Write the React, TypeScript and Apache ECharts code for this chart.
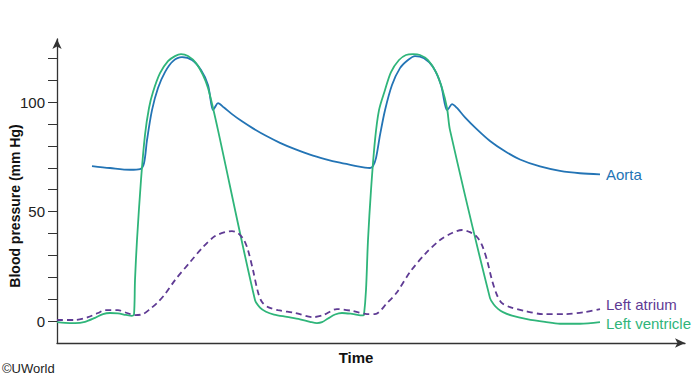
import React, { useEffect, useRef } from "react";
import * as echarts from "echarts";

// Time in arbitrary units (0 = y-axis); pressure in mm Hg
const aortaT = [35, 53, 73, 83, 87, 90, 95, 101, 108, 116, 125, 135, 144, 151, 156, 158, 161, 167, 175, 185, 196, 209, 223, 238, 253, 268, 283, 298, 308, 313, 316, 319,
  323, 328, 335, 343, 351, 358, 367, 376, 384, 390, 392, 395, 400, 408, 420, 433, 448, 463, 483, 503, 523, 543];
const aortaP = [70.8, 69.9, 69.1, 69.4, 72.1, 82.6, 96.3, 106.4, 113.7, 118.7, 120.5, 119.2, 114.6, 107.8, 96.3, 97.7, 99.5, 97.5, 94.5, 91.2, 88.0, 84.6, 81.4, 78.5, 76.0, 74.0, 72.3, 70.9, 70.1, 69.9, 70.8, 74.4,
  84.9, 96.3, 107.8, 115.5, 119.2, 121.0, 120.0, 116.0, 107.8, 96.3, 97.3, 99.1, 97.3, 93.0, 87.5, 82.2, 77.5, 73.8, 70.6, 68.6, 67.5, 67.0];

const ventT = [0, 8, 18, 28, 38, 46, 53, 61, 69, 75, 77, 78, 80, 84, 88, 92, 96, 103, 111, 118, 124, 131, 139, 146, 151, 156, 161, 198, 203, 209, 217, 230, 243, 253, 260, 265, 271, 278, 285, 295, 306, 307, 309, 311, 314, 318, 322, 328, 334, 342, 349, 356, 363, 371, 379, 385, 390, 393, 433, 437, 441, 446, 455, 470, 488, 503, 523, 543];
const ventP = [-0.5, -0.8, -0.9, -0.3, 1.5, 3.2, 3.7, 3.5, 2.8, 2.4, 3.0, 18.7, 37.0, 64.4, 85.0, 97.3, 104.6, 113.2, 118.7, 121.0, 121.9, 121.0, 117.8, 112.3, 106.4, 97.3, 87.2, 9.6, 6.2, 4.3, 3.0, 1.9, 0.8, -0.3, -0.9, -0.5, 1.2, 3.0, 3.7, 3.3, 2.6, 3.0, 14.2, 37.0, 59.8, 82.6, 96.3, 105.5, 113.7, 119.2, 121.5, 121.9, 121.5, 119.2, 113.7, 106.4, 97.3, 87.2, 10.5, 7.5, 5.6, 4.1, 2.5, 0.9, -0.4, -1.2, -1.2, -0.5];

const atriumT = [0, 18, 31, 41, 48, 61, 70, 78, 86, 93, 101, 108, 118, 133, 146, 158, 168, 175, 181, 187, 191, 196, 201, 205, 211, 221, 238, 256, 266, 280, 296, 310, 318, 330, 340, 353, 368, 383, 395, 405, 413, 420, 425, 430, 435, 440, 445, 453, 468, 486, 508, 528, 543];
const atriumP = [0.5, 0.5, 1.8, 3.7, 5.0, 5.0, 3.7, 2.7, 3.2, 5.5, 8.7, 12.3, 18.7, 26.9, 33.8, 38.8, 40.6, 41.1, 40.2, 37.0, 32.4, 23.3, 13.2, 8.7, 6.4, 5.0, 3.7, 1.8, 2.7, 5.5, 4.6, 3.2, 3.2, 8.2, 13.2, 22.4, 30.6, 37.0, 40.2, 41.6, 40.6, 38.4, 34.7, 27.9, 18.7, 11.9, 8.2, 6.4, 4.6, 3.2, 3.2, 4.1, 5.5];

const yTicks = [0, 10, 20, 30, 40, 50, 60, 70, 80, 90, 100, 110, 120];
const yLabels = [0, 50, 100];

const FONT = "'Liberation Sans', Arial, sans-serif";
const BLUE = "#2374b5";
const GREEN = "#2fb57a";
const PURPLE = "#5f3b94";

const pairs = (t: number[], p: number[]) => t.map((x, i) => [x, p[i]]);

export default function App() {
  const ref = useRef<HTMLDivElement>(null);
  useEffect(() => {
    if (!ref.current) return;
    const chart = echarts.init(ref.current, undefined, { renderer: "svg" });
    const lineBase = {
      type: "line" as const,
      showSymbol: false,
      smooth: 0.3,
      z: 3,
    };
    chart.setOption({
      animation: false,
      backgroundColor: "#fff",
      grid: { left: 57, right: 15, top: 39, bottom: 33 },
      xAxis: {
        type: "value",
        min: 0,
        max: 628,
        axisLine: {
          onZero: false,
          lineStyle: { color: "#333", width: 1.3 },
          symbol: ["none", "arrow"],
          symbolSize: [7, 10],
        },
        axisTick: { show: false },
        axisLabel: { show: false },
        splitLine: { show: false },
      },
      yAxis: {
        type: "value",
        min: -10,
        max: 128.8,
        axisLine: {
          show: true,
          onZero: false,
          lineStyle: { color: "#333", width: 1.3 },
          symbol: ["none", "arrow"],
          symbolSize: [7, 10],
        },
        axisTick: {
          show: true,
          length: 9,
          customValues: yTicks,
          lineStyle: { color: "#333", width: 1 },
        },
        axisLabel: {
          customValues: yLabels,
          fontSize: 15,
          color: "#222",
          fontFamily: FONT,
          margin: 12,
        },
        splitLine: { show: false },
      },
      graphic: [
        {
          type: "text",
          x: 15,
          y: 206,
          rotation: Math.PI / 2,
          style: {
            text: "Blood pressure (mm Hg)",
            fontSize: 14,
            fontWeight: "bold",
            fontFamily: FONT,
            fill: "#111",
            textAlign: "center",
            textVerticalAlign: "middle",
          },
        },
        {
          type: "text",
          x: 356,
          y: 357,
          style: {
            text: "Time",
            fontSize: 15,
            fontWeight: "bold",
            fontFamily: FONT,
            fill: "#111",
            textAlign: "center",
            textVerticalAlign: "middle",
          },
        },
        {
          type: "text",
          x: 2,
          y: 368,
          style: {
            text: "©UWorld",
            fontSize: 13,
            fontFamily: FONT,
            fill: "#222",
            textAlign: "left",
            textVerticalAlign: "middle",
          },
        },
      ],
      series: [
        {
          ...lineBase,
          name: "Aorta",
          data: pairs(aortaT, aortaP),
          lineStyle: { color: BLUE, width: 1.8 },
          itemStyle: { color: BLUE },
          endLabel: {
            show: true,
            formatter: "{a}",
            color: BLUE,
            fontSize: 15,
            fontFamily: FONT,
            distance: 6,
          },
        },
        {
          ...lineBase,
          name: "Left ventricle",
          data: pairs(ventT, ventP),
          lineStyle: { color: GREEN, width: 1.8 },
          itemStyle: { color: GREEN },
          endLabel: {
            show: true,
            formatter: "{a}",
            color: GREEN,
            fontSize: 15,
            fontFamily: FONT,
            distance: 6,
            offset: [0, 1],
          },
        },
        {
          ...lineBase,
          name: "Left atrium",
          data: pairs(atriumT, atriumP),
          lineStyle: { color: PURPLE, width: 1.8, type: [6, 4] },
          itemStyle: { color: PURPLE },
          endLabel: {
            show: true,
            formatter: "{a}",
            color: PURPLE,
            fontSize: 15,
            fontFamily: FONT,
            distance: 6,
            offset: [0, -5],
          },
        },
      ],
    });
    return () => chart.dispose();
  }, []);
  return <div ref={ref} style={{ width: 700, height: 376, position: "fixed", left: 0, top: 0 }} />;
}
